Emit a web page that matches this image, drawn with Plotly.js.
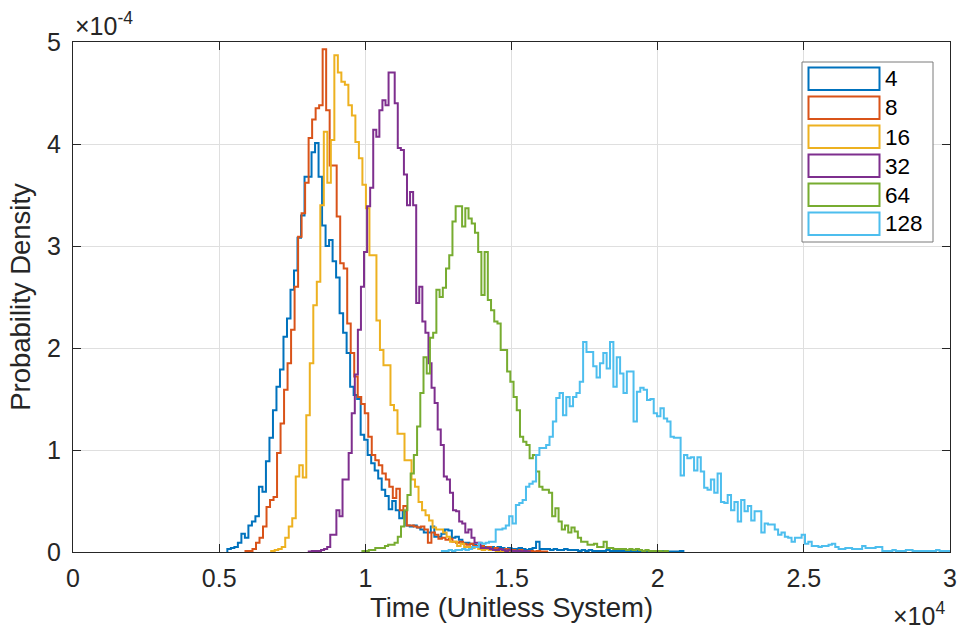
<!DOCTYPE html>
<html><head><meta charset="utf-8">
<script src="https://cdn.plot.ly/plotly-3.0.1.min.js"></script>
<style>body{margin:0;background:#fff}</style>
</head><body><div id="chart" style="width:961px;height:628px"></div>
<script>
// ---- data -------------------------------------------------------------
const seriesNames  = ['4', '8', '16', '32', '64', '128'];
const seriesColors = ['#0072BD', '#D95319', '#EDB120', '#7E2F8E', '#77AC30', '#4DBEEE'];
// first bin edge and bin width (time units) of each histogram
const binStart = [5280, 5900, 6780, 8065, 9900, 12620];
const binWidth = [120, 120, 120, 105, 110, 115];
// probability density of each bin, in units of 1e-4
const densityScale = 1e-4;
const density4 = [0.03,0.04,0.05,0.09,0.18,0.14,0.26,0.30,0.35,0.64,
  0.59,0.89,1.12,1.39,1.62,1.79,2.11,2.29,2.57,2.76,
  3.08,3.30,3.68,3.68,3.92,4.01,3.68,3.20,3.00,3.06,
  2.85,2.69,2.34,2.15,1.95,1.62,1.54,1.50,1.15,1.10,
  0.95,0.87,0.80,0.72,0.61,0.55,0.42,0.50,0.41,0.33,
  0.40,0.26,0.25,0.26,0.24,0.22,0.19,0.19,0.25,0.15,
  0.15,0.18,0.22,0.21,0.14,0.15,0.12,0.09,0.09,0.08,
  0.07,0.05,0.06,0.05,0.04,0.05,0.03,0.05,0.04,0.03,
  0.04,0.03,0.03,0.04,0.03,0.02,0.03,0.04,0.10,0.03,
  0.03,0.03,0.02,0.03,0.02,0.02,0.03,0.02,0.02,0.02,
  0.01,0.02,0.01,0.02,0.01,0.01,0.01,0.01,0.02,0.01,
  0.01,0.01,0.01,0.01,0.005,0.01,0.005,0.01,0.005,0.005,
  0.01,0.005,0.005,0.005,0.01,0.005,0.005,0.005,0.005,0.01];
const density8 = [0.01,0.01,0.03,0.09,0.14,0.25,0.44,0.51,0.54,0.97,
  1.26,1.59,1.85,2.18,2.60,3.09,3.32,3.62,4.06,4.24,
  4.35,4.38,4.93,4.33,3.79,3.79,3.29,2.83,2.78,2.24,
  1.95,1.72,1.52,1.45,1.36,1.13,0.95,0.90,0.85,0.77,
  0.71,0.64,0.53,0.62,0.41,0.45,0.26,0.26,0.25,0.24,
  0.25,0.22,0.09,0.19,0.17,0.13,0.14,0.12,0.13,0.10,
  0.09,0.10,0.08,0.07,0.08,0.06,0.05,0.06,0.04,0.05,
  0.03,0.04,0.03,0.02,0.03,0.02,0.02,0.01,0.02,0.01,
  0.01,0.01,0.005,0.01,0.005,0.005];
const density16 = [0.01,0.02,0.03,0.05,0.14,0.25,0.33,0.74,0.85,0.73,
  1.34,1.85,2.42,2.65,3.40,4.12,3.62,4.04,4.87,4.70,
  4.61,4.58,4.38,4.28,4.02,3.86,3.60,3.37,2.91,2.91,
  2.27,1.98,1.83,1.83,1.44,1.39,1.16,1.16,0.90,0.90,
  0.71,0.64,0.49,0.41,0.36,0.31,0.24,0.22,0.22,0.19,
  0.15,0.10,0.10,0.06,0.08,0.05,0.05,0.04,0.05,0.03,
  0.02,0.03,0.02,0.02,0.01,0.01,0.01,0.005,0.01,0.005];
const density32 = [0.005,0.01,0.01,0.01,0.02,
  0.03,0.05,0.17,0.17,0.41,0.35,0.71,0.71,0.97,1.36,
  1.74,2.18,2.60,2.94,3.39,3.57,4.14,4.07,4.33,4.43,
  4.38,4.70,4.70,4.40,3.96,3.94,3.70,3.40,3.53,3.40,
  2.44,2.60,2.26,2.15,1.85,1.61,1.46,1.20,1.05,0.74,
  0.71,0.58,0.41,0.40,0.30,0.28,0.19,0.22,0.14,0.09,
  0.09,0.04,0.04,0.04,0.03,0.02,0.02,0.03,0.02,0.01,
  0.02,0.01,0.01,0.01,0.005,0.01,0.005];
const density64 = [0.01,0.01,0.02,0.02,0.04,0.04,0.04,0.06,0.07,0.07,
  0.09,0.15,0.25,0.41,0.56,0.77,0.95,1.23,1.56,1.91,
  1.75,2.10,2.15,2.57,2.50,2.59,2.78,2.91,3.24,3.39,
  3.39,3.19,3.37,3.27,3.22,3.13,2.94,2.52,2.94,2.47,
  2.37,2.26,2.24,1.98,1.98,1.77,1.67,1.52,1.39,1.13,
  1.08,1.05,0.92,0.95,0.79,0.64,0.61,0.61,0.58,0.35,
  0.43,0.30,0.22,0.26,0.19,0.24,0.20,0.14,0.10,0.10,
  0.07,0.07,0.08,0.05,0.05,0.10,0.04,0.04,0.03,0.03,
  0.03,0.03,0.02,0.03,0.02,0.03,0.02,0.01,0.02,0.01,
  0.01,0.01,0.01,0.005,0.01];
const density128 = [0.01,0.01,0.02,0.01,0.02,0.02,0.03,0.02,0.03,0.05,
  0.05,0.09,0.08,0.09,0.10,0.10,0.22,0.22,0.23,0.26,
  0.35,0.28,0.46,0.48,0.51,0.64,0.67,0.69,0.95,1.02,
  1.02,1.05,1.13,1.28,1.51,1.56,1.34,1.52,1.43,1.52,
  1.56,1.67,2.06,1.96,1.96,1.82,1.71,1.85,1.95,1.80,
  2.06,1.62,1.91,1.75,1.56,1.77,1.77,1.28,1.57,1.61,
  1.59,1.49,1.50,1.36,1.33,1.41,1.31,1.28,1.13,1.12,
  1.12,0.75,0.95,0.92,0.93,0.80,0.93,0.79,0.63,0.61,
  0.71,0.58,0.77,0.49,0.48,0.56,0.41,0.49,0.30,0.51,
  0.40,0.45,0.31,0.40,0.40,0.19,0.28,0.27,0.27,0.22,
  0.17,0.19,0.15,0.14,0.10,0.14,0.14,0.17,0.08,0.10,
  0.06,0.06,0.05,0.06,0.06,0.07,0.08,0.05,0.03,0.03,
  0.04,0.04,0.03,0.03,0.03,0.06,0.04,0.04,0.04,0.05,
  0.05,0.01,0.01,0.01,0.02,0.01,0.01,0.01,0.02,0.02,
  0.01,0.01,0.01,0.01,0.01,0.01,0.01,0.02,0.01,0.01,0.01];
const densities = [density4, density8, density16, density32, density64, density128];

const xTickVals = [0, 5000, 10000, 15000, 20000, 25000, 30000];
const xTickText = ['0', '0.5', '1', '1.5', '2', '2.5', '3'];
const yTickVals = [0, 1e-4, 2e-4, 3e-4, 4e-4, 5e-4];
const yTickText = ['0', '1', '2', '3', '4', '5'];

// ---- stairs traces --------------------------------------------------------
const FONT = 'Liberation Sans, Arial, Helvetica, sans-serif';
const INK = '#262626';
const traces = densities.map((d, s) => {
  const xs = [binStart[s]], ys = [0];
  d.forEach((v, i) => { xs.push(binStart[s] + i * binWidth[s]); ys.push(v * densityScale); });
  xs.push(binStart[s] + d.length * binWidth[s]); ys.push(0);
  return {
    type: 'scatter', mode: 'lines', name: seriesNames[s], x: xs, y: ys,
    line: {color: seriesColors[s], width: 2, shape: 'hv'},
    showlegend: false, hoverinfo: 'skip'
  };
});

// ---- geometry (pixels) ----------------------------------------------------
const W = 961, H = 628, L = 73, R = 950, T = 42, B = 552;
const px2x = p => (p - L) / (R - L);
const py2y = p => (B - p) / (B - T);

// legend drawn as a MATLAB-style box
const shapes = [{type: 'rect', xref: 'paper', yref: 'paper',
  x0: px2x(802), x1: px2x(933), y0: py2y(242), y1: py2y(62),
  line: {color: '#7a7a7a', width: 1}, fillcolor: '#ffffff', layer: 'above'}];
const annotations = [];
seriesNames.forEach((n, i) => {
  const top = 67.5 + 29 * i;
  shapes.push({type: 'rect', xref: 'paper', yref: 'paper',
    x0: px2x(808.5), x1: px2x(879.5), y0: py2y(top + 22.5), y1: py2y(top),
    line: {color: seriesColors[i], width: 2}, fillcolor: 'rgba(0,0,0,0)', layer: 'above'});
  annotations.push({xref: 'paper', yref: 'paper', x: px2x(883), y: py2y(top + 11.5),
    xanchor: 'left', yanchor: 'middle', text: n, showarrow: false,
    font: {family: FONT, size: 22.5, color: '#000'}});
});
annotations.push({xref: 'paper', yref: 'paper', x: 0, y: 1, xanchor: 'left', yanchor: 'bottom',
  xshift: 0, yshift: 0, text: '\u00d710<sup>-4</sup>', showarrow: false,
  font: {family: FONT, size: 25, color: INK}});
annotations.push({xref: 'paper', yref: 'paper', x: 1, y: 0, xanchor: 'right', yanchor: 'bottom',
  xshift: -3, yshift: -(H - B) - 4, text: '\u00d710<sup>4</sup>', showarrow: false,
  font: {family: FONT, size: 25, color: INK}});

const axisCommon = {
  showline: true, linecolor: INK, linewidth: 1, mirror: 'ticks',
  ticks: 'inside', ticklen: 8, tickwidth: 1, tickcolor: INK,
  showgrid: true, gridcolor: '#dfdfdf', gridwidth: 1, zeroline: false,
  tickfont: {family: FONT, size: 25, color: INK}, automargin: false
};

const layout = {
  width: W, height: H,
  margin: {l: L, r: W - R, t: T, b: H - B},
  paper_bgcolor: '#ffffff', plot_bgcolor: '#ffffff',
  showlegend: false,
  xaxis: Object.assign({}, axisCommon, {
    range: [0, 30000], tickmode: 'array', tickvals: xTickVals, ticktext: xTickText,
    ticklabelstandoff: 4,
    title: {text: 'Time (Unitless System)', font: {family: FONT, size: 27.5, color: INK}, standoff: 3}
  }),
  yaxis: Object.assign({}, axisCommon, {
    range: [0, 5e-4], tickmode: 'array', tickvals: yTickVals, ticktext: yTickText,
    ticklabelstandoff: 6,
    title: {text: 'Probability Density', font: {family: FONT, size: 27.5, color: INK}, standoff: 8}
  }),
  shapes: shapes, annotations: annotations
};

Plotly.newPlot('chart', traces, layout, {staticPlot: true, displayModeBar: false});
</script></body></html>
